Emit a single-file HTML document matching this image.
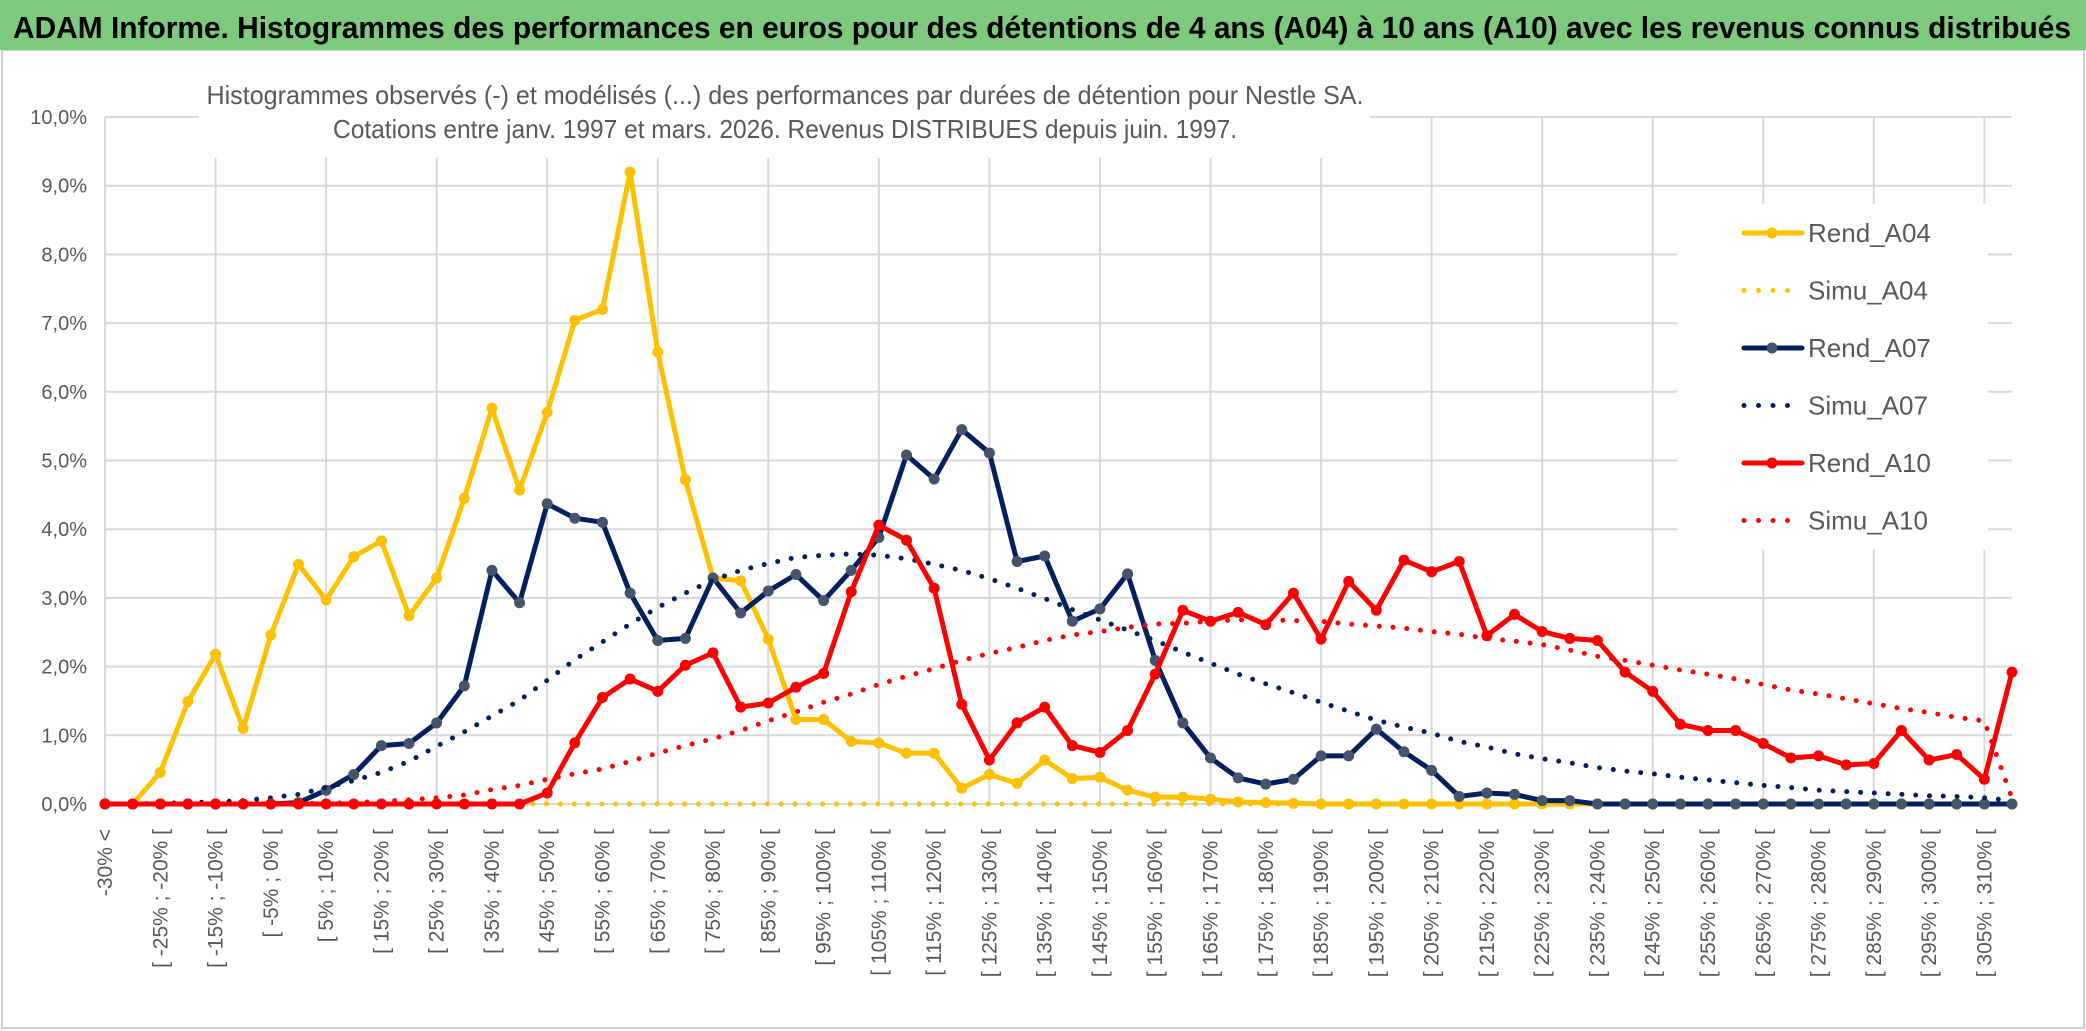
<!DOCTYPE html>
<html><head><meta charset="utf-8">
<style>
html,body{margin:0;padding:0;background:#fff;}
svg{display:block;font-family:"Liberation Sans",sans-serif;}
</style></head>
<body>
<svg id="chart" xmlns="http://www.w3.org/2000/svg" width="2086" height="1031" viewBox="0 0 2086 1031">
  <rect x="0" y="0" width="2086" height="1031" fill="#ffffff"/>
  <rect x="2" y="50" width="2082" height="978" fill="#fff" stroke="#d0d0d0" stroke-width="2"/>
  <rect x="0" y="0" width="2086" height="50" fill="#7dc97e"/>
  <text x="13" y="38" font-size="31" font-weight="bold" fill="#000" textLength="2058" lengthAdjust="spacingAndGlyphs">ADAM Informe. Histogrammes des performances en euros pour des détentions de 4 ans (A04) à 10 ans (A10) avec les revenus connus distribués</text>
  <g id="grid"></g>
  <g id="yaxis"></g>
  <g id="xaxis"></g>
  <rect x="199" y="60" width="1171" height="98" fill="#fff"/>
  <text x="785" y="104" font-size="26" fill="#595959" text-anchor="middle" textLength="1157" lengthAdjust="spacingAndGlyphs">Histogrammes observés (-) et modélisés (...) des performances par durées de détention pour Nestle SA.</text>
  <text x="785" y="138" font-size="26" fill="#595959" text-anchor="middle" textLength="904" lengthAdjust="spacingAndGlyphs">Cotations entre janv. 1997 et mars. 2026. Revenus DISTRIBUES depuis juin. 1997.</text>
  <rect x="1677" y="204" width="311" height="346" fill="#fff"/>
  <g id="series"></g>
  <g id="legend"></g>
</svg>
<script>
const categories = ["-30% <","[ -30% ; -25% [","[ -25% ; -20% [","[ -20% ; -15% [","[ -15% ; -10% [","[ -10% ; -5% [","[ -5% ; 0% [","[ 0% ; 5% [","[ 5% ; 10% [","[ 10% ; 15% [",
"[ 15% ; 20% [","[ 20% ; 25% [","[ 25% ; 30% [","[ 30% ; 35% [","[ 35% ; 40% [","[ 40% ; 45% [","[ 45% ; 50% [","[ 50% ; 55% [","[ 55% ; 60% [","[ 60% ; 65% [",
"[ 65% ; 70% [","[ 70% ; 75% [","[ 75% ; 80% [","[ 80% ; 85% [","[ 85% ; 90% [","[ 90% ; 95% [","[ 95% ; 100% [","[ 100% ; 105% [","[ 105% ; 110% [","[ 110% ; 115% [",
"[ 115% ; 120% [","[ 120% ; 125% [","[ 125% ; 130% [","[ 130% ; 135% [","[ 135% ; 140% [","[ 140% ; 145% [","[ 145% ; 150% [","[ 150% ; 155% [","[ 155% ; 160% [","[ 160% ; 165% [",
"[ 165% ; 170% [","[ 170% ; 175% [","[ 175% ; 180% [","[ 180% ; 185% [","[ 185% ; 190% [","[ 190% ; 195% [","[ 195% ; 200% [","[ 200% ; 205% [","[ 205% ; 210% [","[ 210% ; 215% [",
"[ 215% ; 220% [","[ 220% ; 225% [","[ 225% ; 230% [","[ 230% ; 235% [","[ 235% ; 240% [","[ 240% ; 245% [","[ 245% ; 250% [","[ 250% ; 255% [","[ 255% ; 260% [","[ 260% ; 265% [",
"[ 265% ; 270% [","[ 270% ; 275% [","[ 275% ; 280% [","[ 280% ; 285% [","[ 285% ; 290% [","[ 290% ; 295% [","[ 295% ; 300% [","[ 300% ; 305% [","[ 305% ; 310% [","310% <"];
const yTicks = [0,1,2,3,4,5,6,7,8,9,10];
const yTickLabels = ["0,0%","1,0%","2,0%","3,0%","4,0%","5,0%","6,0%","7,0%","8,0%","9,0%","10,0%"];
const rendA04 = [0,0,0.46,1.49,2.18,1.1,2.46,3.49,2.97,3.6,3.83,2.74,3.29,4.45,5.76,4.57,5.7,7.04,7.2,9.2,6.58,4.72,3.29,3.25,2.4,1.23,1.23,0.91,0.89,0.74,0.74,0.23,0.43,0.3,0.64,0.37,0.39,0.2,0.1,0.1,0.07,0.03,0.02,0.01,0,0,0,0,0,0,0,0,0,0,0,0,0,0,0,0,0,0,0,0,0,0,0,0,0,0];
const simuA04 = [0,0,0,0,0,0,0,0,0,0,0,0,0,0,0,0,0,0,0,0,0,0,0,0,0,0,0,0,0,0,0,0,0,0,0,0,0,0,0,0,0,0,0,0,0,0,0,0,0,0,0,0,0,0,0,0,0,0,0,0,0,0,0,0,0,0,0,0,0,0];
const rendA07 = [0,0,0,0,0,0,0,0.02,0.2,0.43,0.85,0.88,1.18,1.72,3.4,2.93,4.37,4.16,4.1,3.07,2.38,2.41,3.29,2.78,3.1,3.34,2.96,3.4,3.88,5.08,4.73,5.45,5.11,3.53,3.61,2.66,2.84,3.35,2.09,1.18,0.67,0.38,0.29,0.36,0.7,0.7,1.09,0.76,0.49,0.11,0.16,0.14,0.05,0.05,0,0,0,0,0,0,0,0,0,0,0,0,0,0,0,0];
const simuA07 = [0,0,0.01,0.02,0.03,0.05,0.09,0.14,0.24,0.34,0.46,0.62,0.84,1.05,1.28,1.51,1.8,2.1,2.36,2.62,2.86,3.07,3.26,3.4,3.5,3.59,3.62,3.64,3.62,3.57,3.49,3.4,3.28,3.14,2.99,2.83,2.68,2.53,2.38,2.21,2.05,1.89,1.75,1.62,1.48,1.35,1.22,1.12,1.03,0.91,0.83,0.73,0.66,0.6,0.53,0.48,0.44,0.39,0.35,0.31,0.27,0.24,0.2,0.18,0.16,0.14,0.12,0.11,0.09,0.05];
const rendA10 = [0,0,0,0,0,0,0,0,0,0,0,0,0,0,0,0,0.16,0.89,1.55,1.82,1.64,2.02,2.2,1.41,1.47,1.7,1.9,3.09,4.06,3.84,3.14,1.45,0.64,1.18,1.41,0.85,0.75,1.07,1.89,2.82,2.66,2.79,2.61,3.07,2.4,3.24,2.82,3.55,3.38,3.53,2.45,2.76,2.51,2.41,2.38,1.92,1.64,1.16,1.07,1.07,0.88,0.67,0.7,0.57,0.59,1.07,0.64,0.72,0.36,1.92];
const simuA10 = [0,0,0,0,0,0,0,0.01,0.01,0.02,0.04,0.06,0.09,0.13,0.21,0.27,0.36,0.44,0.51,0.62,0.74,0.85,0.95,1.07,1.21,1.34,1.48,1.6,1.74,1.86,1.97,2.09,2.19,2.28,2.38,2.46,2.51,2.57,2.62,2.63,2.66,2.68,2.68,2.67,2.66,2.62,2.59,2.56,2.51,2.47,2.41,2.37,2.32,2.24,2.15,2.09,2.02,1.95,1.89,1.82,1.74,1.66,1.6,1.53,1.46,1.39,1.33,1.26,1.21,0.08];
const seriesNames = ["Rend_A04","Simu_A04","Rend_A07","Simu_A07","Rend_A10","Simu_A10"];

const NS = "http://www.w3.org/2000/svg";
const X0 = 105, X1 = 2012, Y0 = 804, Y10 = 117;
function xScale(i){ return X0 + i * (X1 - X0) / (categories.length - 1); }
function yScale(v){ return Y0 - v * (Y0 - Y10) / 10; }
function mk(tag, attrs, parent){ const e = document.createElementNS(NS, tag); for (const k in attrs) e.setAttribute(k, attrs[k]); parent.appendChild(e); return e; }

const grid = document.getElementById('grid');
yTicks.forEach((t, i) => {
  const ln = mk('line', {x1: X0, x2: X1, y1: yScale(t), y2: yScale(t), stroke: '#d9d9d9', 'stroke-width': 2}, grid);
  
  
});
categories.forEach((c, i) => {
  if (i % 4 !== 0) return;
  const ln = mk('line', {x1: xScale(i), x2: xScale(i), y1: Y10, y2: Y0, stroke: '#d9d9d9', 'stroke-width': 2}, grid);
  
  
});

const yaxis = document.getElementById('yaxis');
yTicks.forEach((t, i) => {
  const tx = mk('text', {x: 87, y: yScale(t) + 7, 'font-size': 20, fill: '#595959', 'text-anchor': 'end'}, yaxis);
  tx.textContent = yTickLabels[i];
  
  
});

const xaxis = document.getElementById('xaxis');
categories.forEach((c, i) => {
  if (i % 2 !== 0) return;
  const x = xScale(i) + 7, y = 829;
  const tx = mk('text', {x: x, y: y, 'font-size': 21, fill: '#595959', 'text-anchor': 'end', transform: 'rotate(-90 ' + x + ' ' + y + ')'}, xaxis);
  tx.textContent = c;
  
  
});

const seriesG = document.getElementById('series');
function pathD(vals){ return vals.map((v, i) => (i ? 'L' : 'M') + xScale(i).toFixed(2) + ' ' + yScale(v).toFixed(2)).join(' '); }
function drawSolid(vals, color, mcolor, name){
  const g = mk('g', {}, seriesG);
  
  
  const p = mk('path', {d: pathD(vals), fill: 'none', stroke: color, 'stroke-width': 5, 'stroke-linejoin': 'round'}, g);
  
  
  vals.forEach((v, i) => {
    const c = mk('circle', {cx: xScale(i), cy: yScale(v), r: 5.5, fill: mcolor}, g);
    
    
  });
}
function drawDotted(vals, color, name){
  const p = mk('path', {d: pathD(vals), fill: 'none', stroke: color, 'stroke-width': 5, 'stroke-linecap': 'round', 'stroke-dasharray': '0 13.8'}, seriesG);
  
  
}
drawSolid(rendA04, '#ffc000', '#ffc000', 'rend-a04');
drawDotted(simuA04, '#ffc000', 'simu-a04');
drawSolid(rendA07, '#002060', '#44546a', 'rend-a07');
drawDotted(simuA07, '#002060', 'simu-a07');
drawSolid(rendA10, '#ff0000', '#ff0000', 'rend-a10');
drawDotted(simuA10, '#ff0000', 'simu-a10');

const legend = document.getElementById('legend');
const legendColors = ['#ffc000','#ffc000','#002060','#002060','#ff0000','#ff0000'];
const legendMarkers = ['#ffc000','#ffc000','#44546a','#002060','#ff0000','#ff0000'];
seriesNames.forEach((n, i) => {
  const y = 233 + i * 57.5;
  const g = mk('g', {}, legend);
  
  
  if (i % 2 === 0) {
    mk('line', {x1: 1744, x2: 1802, y1: y, y2: y, stroke: legendColors[i], 'stroke-width': 5, 'stroke-linecap': 'round'}, g);
    mk('circle', {cx: 1772, cy: y, r: 5.5, fill: legendMarkers[i]}, g);
  } else {
    mk('line', {x1: 1744, x2: 1800, y1: y, y2: y, stroke: legendColors[i], 'stroke-width': 5, 'stroke-linecap': 'round', 'stroke-dasharray': '0 14.5'}, g);
  }
  const t = mk('text', {x: 1808, y: y + 9, 'font-size': 26, fill: '#595959'}, g);
  t.textContent = n;
});
</script>
</body></html>
